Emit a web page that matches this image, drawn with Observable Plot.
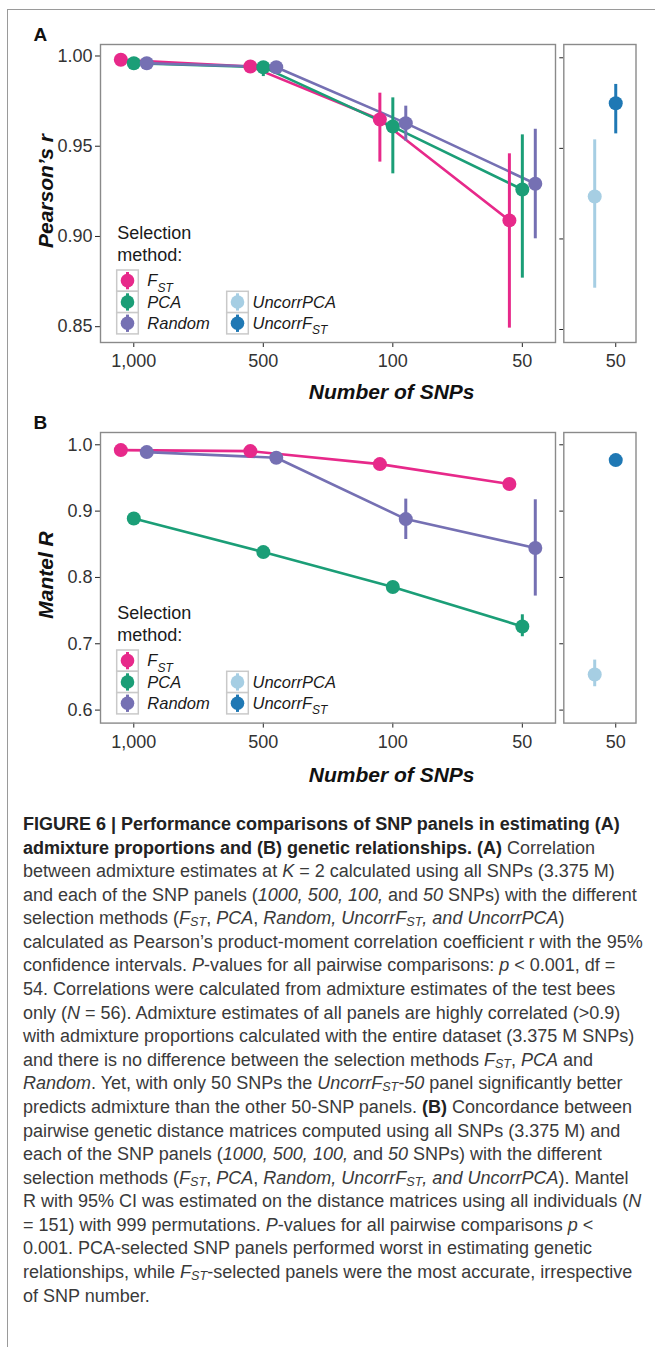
<!DOCTYPE html>
<html><head><meta charset="utf-8">
<script src="https://cdn.jsdelivr.net/npm/d3@7"></script>
<script src="https://cdn.jsdelivr.net/npm/@observablehq/plot@0.6"></script>
<style>
body{margin:0;background:#fff;}
#root{position:relative;width:655px;height:1347px;overflow:hidden;font-family:"Liberation Sans",Arial,Helvetica,sans-serif;}
#border{position:absolute;left:7px;top:9px;width:700px;height:1400px;border-left:1.5px solid #9a9a9a;border-top:1.5px solid #9a9a9a;}
.lab{position:absolute;font-weight:bold;font-size:19px;color:#111;}
.xt{position:absolute;font-weight:bold;font-style:italic;font-size:21px;color:#111;white-space:nowrap;transform:translate(-50%,-50%);}
.yt{position:absolute;font-weight:bold;font-style:italic;font-size:21px;color:#111;white-space:nowrap;transform:translate(-50%,-50%) rotate(-90deg);}
#caption{position:absolute;left:23px;top:813px;font-size:18px;line-height:23.58px;color:#3a3a3a;white-space:nowrap;}
#caption b{color:#222;}
#caption div{display:block;}
svg{overflow:visible;}
</style></head><body><div id="root"><div id="border"></div></div>
<script>
// ---------- data ----------
const panels = ["1,000", "500", "100", "50"];
const methods = ["FST", "PCA", "Random"];
const uncorrMethods = ["UncorrPCA", "UncorrFST"];
const allMethods = ["FST", "PCA", "Random", "UncorrPCA", "UncorrFST"];
const methodColors = ["#E7298A", "#1B9E77", "#7570B3", "#A6CEE3", "#1F78B4"];

// Panel A: Pearson's r (value, lower CI, upper CI) for 1,000 / 500 / 100 / 50 SNPs
const aFST = [0.9979, 0.9942, 0.9648, 0.9089];
const aFSTlo = [0.9970, 0.9930, 0.9412, 0.8492];
const aFSThi = [0.9986, 0.9952, 0.9794, 0.9458];
const aPCA = [0.9960, 0.9938, 0.9609, 0.9260];
const aPCAlo = [0.9950, 0.9886, 0.9347, 0.8769];
const aPCAhi = [0.9968, 0.9966, 0.9768, 0.9563];
const aRandom = [0.9960, 0.9938, 0.9628, 0.9292];
const aRandomlo = [0.9950, 0.9925, 0.9528, 0.8987];
const aRandomhi = [0.9968, 0.9950, 0.9722, 0.9594];
// Uncorrelated panels, 50 SNPs: [UncorrPCA, UncorrFST]
const aUncorr = [0.9234, 0.9749];
const aUncorrlo = [0.8728, 0.9580];
const aUncorrhi = [0.9547, 0.9853];

// Panel B: Mantel R
const bFST = [0.992, 0.9905, 0.9709, 0.9408];
const bFSTlo = [0.989, 0.9875, 0.9680, 0.9380];
const bFSThi = [0.995, 0.9935, 0.9740, 0.9440];
const bPCA = [0.8889, 0.8382, 0.7855, 0.7261];
const bPCAlo = [0.8860, 0.8350, 0.7820, 0.7106];
const bPCAhi = [0.8920, 0.8410, 0.7890, 0.7437];
const bRandom = [0.989, 0.9804, 0.888, 0.8443];
const bRandomlo = [0.986, 0.9770, 0.8572, 0.7719];
const bRandomhi = [0.992, 0.9840, 0.9181, 0.9171];
const bUncorr = [0.6537, 0.9769];
const bUncorrlo = [0.6352, 0.9740];
const bUncorrhi = [0.6754, 0.9800];

const aYTicks = [0.85, 0.90, 0.95, 1.00];
const bYTicks = [0.6, 0.7, 0.8, 0.9, 1.0];

// ---------- helpers ----------
const FONT = '"Liberation Sans", Arial, Helvetica, sans-serif';
const TICKFS = 18;
const root = document.getElementById("root");
const dodge = {FST: -0.1, PCA: 0, Random: 0.1};
const uDodge = {UncorrPCA: -0.162, UncorrFST: 0};

function mainRows(series) {
  return methods.flatMap(m => panels.map((p, i) => ({
    method: m, x: i + dodge[m], v: series[m][0][i], lo: series[m][1][i], hi: series[m][2][i]
  })));
}
function uncorrRows(v, lo, hi) {
  return uncorrMethods.map((m, i) => ({method: m, x: uDodge[m], v: v[i], lo: lo[i], hi: hi[i]}));
}
function place(el, left, top) {
  el.style.position = "absolute"; el.style.left = left + "px"; el.style.top = top + "px";
  root.appendChild(el);
}
const baseStyle = {fontFamily: FONT, fontSize: TICKFS + "px", color: "#333", background: "transparent", overflow: "visible"};
const colorScale = {domain: allMethods, range: methodColors};

function mainPanel(rows, yDomain, yTicks, fmt, frameH) {
  return Plot.plot({
    width: 560, height: 44 + frameH + 38,
    marginLeft: 100, marginRight: 5, marginTop: 44, marginBottom: 38,
    style: baseStyle,
    x: {type: "linear", domain: [-0.257, 3.256]},
    y: {domain: yDomain},
    color: colorScale,
    marks: [
      Plot.axisX({ticks: [0, 1, 2, 3], tickFormat: i => panels[i], tickSize: 5, tickPadding: 7, label: null, fontSize: TICKFS, fill: "#333", stroke: "#222"}),
      Plot.axisY({ticks: yTicks, tickFormat: fmt, tickSize: 5, tickPadding: 3, label: null, fontSize: TICKFS, fill: "#333", stroke: "#222"}),
      Plot.line(rows, {x: "x", y: "v", z: "method", stroke: "method", strokeWidth: 2.6}),
      Plot.ruleX(rows, {x: "x", y1: "lo", y2: "hi", stroke: "method", strokeWidth: 3}),
      Plot.dot(rows, {x: "x", y: "v", r: 7, fill: "method"}),
      Plot.frame({stroke: "#8a8a8a", strokeWidth: 1.4})
    ]
  });
}
function sidePanel(rows, yDomain, yTicks, frameH) {
  return Plot.plot({
    width: 100, height: 44 + frameH + 38,
    marginLeft: 23.3, marginRight: 4.5, marginTop: 44, marginBottom: 38,
    style: baseStyle,
    x: {type: "linear", domain: [-0.40, 0.156]},
    y: {domain: yDomain},
    color: colorScale,
    marks: [
      Plot.axisX({ticks: [0], tickFormat: () => panels[3], tickSize: 5, tickPadding: 7, label: null, fontSize: TICKFS, fill: "#333", stroke: "#222"}),
      Plot.axisY({ticks: yTicks, tickFormat: () => "", tickSize: 4, tickPadding: 0, label: null, stroke: "#222"}),
      Plot.ruleX(rows, {x: "x", y1: "lo", y2: "hi", stroke: "method", strokeWidth: 3}),
      Plot.dot(rows, {x: "x", y: "v", r: 7, fill: "method"}),
      Plot.frame({stroke: "#8a8a8a", strokeWidth: 1.4})
    ]
  });
}

function legend(frameBottom) {
  const svg = d3.create("svg").attr("width", 200).attr("height", 130)
    .style("font-family", FONT).style("overflow", "visible");
  const ox = 110, oy = frameBottom - 125;
  const g = svg.append("g").attr("transform", `translate(${-ox},${-oy})`);
  const t = g.append("text").attr("fill", "#1a1a1a").attr("font-size", 18);
  t.append("tspan").attr("x", 117.3).attr("y", frameBottom - 109.3).attr("dy", "0.35em").text("Selection");
  t.append("tspan").attr("x", 117.3).attr("y", frameBottom - 87).attr("dy", "0.35em").text("method:");
  const rowH = 21.3, boxTop = frameBottom - 72;
  const col = (items, bx, tx, startRow) => {
    items.forEach((m, k) => {
      const r = startRow + k;
      const y0 = boxTop + r * rowH, cy = y0 + rowH / 2;
      const c = methodColors[allMethods.indexOf(m)];
      g.append("rect").attr("x", bx).attr("y", y0).attr("width", 21.6).attr("height", rowH)
        .attr("fill", "#fff").attr("stroke", "#c9c9c9").attr("stroke-width", 1.5);
      g.append("line").attr("x1", bx + 10.8).attr("x2", bx + 10.8).attr("y1", y0 + 2).attr("y2", y0 + rowH - 2)
        .attr("stroke", c).attr("stroke-width", 3);
      g.append("circle").attr("cx", bx + 10.8).attr("cy", cy).attr("r", 6.8).attr("fill", c);
      const lt = g.append("text").attr("x", tx).attr("y", cy).attr("dy", "0.35em")
        .attr("font-size", 16.5).attr("font-style", "italic").attr("fill", "#1a1a1a");
      const m2 = m.endsWith("FST") ? m.slice(0, -2) : null;
      if (m2) {
        lt.append("tspan").text(m2);
        lt.append("tspan").attr("font-size", 12).attr("dy", "0.45em").text("ST");
      } else lt.text(m);
    });
  };
  col(methods, 116.7, 147.3, 0);
  col(uncorrMethods, 226.7, 252.5, 1);
  return {node: svg.node(), ox, oy};
}

function panel(letter, top, frameH, rows, uRows, yDomain, sideDomain, yTicks, fmt, yTitle, xTitleY) {
  const m = mainPanel(rows, yDomain, yTicks, fmt, frameH);
  place(m, 0, top);
  const s = sidePanel(uRows, sideDomain, yTicks, frameH);
  place(s, 540, top);
  const frameBottom = top + 44 + frameH;
  const L = legend(frameBottom);
  place(L.node, L.ox, L.oy);
  const lab = document.createElement("div"); lab.className = "lab"; lab.textContent = letter;
  place(lab, 33.5, top + 24);
  const xt = document.createElement("div"); xt.className = "xt"; xt.textContent = "Number of SNPs";
  place(xt, 391.7, xTitleY);
  const yt = document.createElement("div"); yt.className = "yt"; yt.textContent = yTitle;
  place(yt, 46, top + 44 + frameH / 2 - 2.5);
}

const rowsA = mainRows({FST: [aFST, aFSTlo, aFSThi], PCA: [aPCA, aPCAlo, aPCAhi], Random: [aRandom, aRandomlo, aRandomhi]});
const rowsB = mainRows({FST: [bFST, bFSTlo, bFSThi], PCA: [bPCA, bPCAlo, bPCAhi], Random: [bRandom, bRandomlo, bRandomhi]});
panel("A", 0, 298, rowsA, uncorrRows(aUncorr, aUncorrlo, aUncorrhi),
  [0.84124, 1.00637], [0.84283, 1.00734], aYTicks, d3.format(".2f"), "Pearson\u2019s r", 391.7);
panel("B", 387.7, 290.6, rowsB, uncorrRows(bUncorr, bUncorrlo, bUncorrhi),
  [0.5804, 1.01854], [0.5804, 1.01854], bYTicks, d3.format(".1f"), "Mantel R", 775);

// ---------- caption ----------
const captionLines = [
  '<b>FIGURE 6 | Performance comparisons of SNP panels in estimating (A)</b>',
  '<b>admixture proportions and (B) genetic relationships. (A)</b> Correlation',
  'between admixture estimates at <i>K</i> = 2 calculated using all SNPs (3.375 M)',
  'and each of the SNP panels (<i>1000, 500, 100,</i> and <i>50</i> SNPs) with the different',
  'selection methods (<i>F<sub>ST</sub></i>, <i>PCA</i>, <i>Random, UncorrF<sub>ST</sub>, and UncorrPCA</i>)',
  'calculated as Pearson\u2019s product-moment correlation coefficient r with the 95%',
  'confidence intervals. <i>P</i>-values for all pairwise comparisons: <i>p</i> &lt; 0.001, df =',
  '54. Correlations were calculated from admixture estimates of the test bees',
  'only (<i>N</i> = 56). Admixture estimates of all panels are highly correlated (&gt;0.9)',
  'with admixture proportions calculated with the entire dataset (3.375 M SNPs)',
  'and there is no difference between the selection methods <i>F<sub>ST</sub></i>, <i>PCA</i> and',
  '<i>Random</i>. Yet, with only 50 SNPs the <i>UncorrF<sub>ST</sub>-50</i> panel significantly better',
  'predicts admixture than the other 50-SNP panels. <b>(B)</b> Concordance between',
  'pairwise genetic distance matrices computed using all SNPs (3.375 M) and',
  'each of the SNP panels (<i>1000, 500, 100,</i> and <i>50</i> SNPs) with the different',
  'selection methods (<i>F<sub>ST</sub></i>, <i>PCA</i>, <i>Random, UncorrF<sub>ST</sub>, and UncorrPCA</i>). Mantel',
  'R with 95% CI was estimated on the distance matrices using all individuals (<i>N</i>',
  '= 151) with 999 permutations. <i>P</i>-values for all pairwise comparisons <i>p</i> &lt;',
  '0.001. PCA-selected SNP panels performed worst in estimating genetic',
  'relationships, while <i>F<sub>ST</sub></i>-selected panels were the most accurate, irrespective',
  'of SNP number.'
];
const cap = document.createElement("div"); cap.id = "caption";
cap.innerHTML = captionLines.map(l => `<div><span>${l}</span></div>`).join("");
root.appendChild(cap);
cap.querySelectorAll("sub").forEach(s => { s.style.fontSize = "0.7em"; s.style.lineHeight = "0"; s.style.verticalAlign = "-0.18em"; });
// fit the widest line of the reference ("calculated as ... 95%") to its measured width (~622px)
const refSpan = cap.querySelectorAll("span")[5];
const w = refSpan.getBoundingClientRect().width;
cap.style.fontSize = (18 * 620 / w).toFixed(2) + "px";
</script>
</body></html>
